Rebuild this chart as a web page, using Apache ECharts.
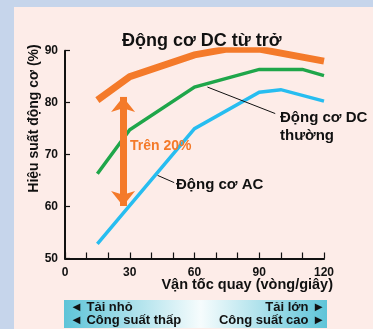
<!DOCTYPE html>
<html><head><meta charset="utf-8">
<script src="https://cdn.jsdelivr.net/npm/echarts@6/dist/echarts.min.js"></script>
<style>html,body{margin:0;padding:0;background:#c6d5eb;}#c{width:373px;height:329px;}</style>
</head><body><div id="c"></div>
<script>
const FONT = '"Liberation Sans", Arial, sans-serif';
const titleText = 'Động cơ DC từ trở';
const xName = 'Vận tốc quay (vòng/giây)';
const yName = 'Hiệu suất động cơ (%)';
const xTickLabels = [0, 30, 60, 90, 120];

const srmSpeed = [15, 30, 60, 75, 90, 120];
const srmEff   = [80.5, 85, 89.2, 90.3, 90.3, 88];
const dcSpeed  = [15, 30, 60, 90, 110, 120];
const dcEff    = [66.3, 74.8, 83, 86.4, 86.4, 85.2];
const acSpeed  = [15, 60, 90, 100, 120];
const acEff    = [52.8, 75, 82, 82.5, 80.3];

const pairs = (xs, ys) => xs.map((x, i) => [x, ys[i]]);

const chart = echarts.init(document.getElementById('c'), null, {renderer: 'canvas'});
chart.setOption({
  animation: false,
  backgroundColor: '#c6d5eb',
  textStyle: {fontFamily: FONT},
  title: {
    text: titleText, left: 117, top: 27,
    textStyle: {fontFamily: FONT, fontSize: 18, fontWeight: 'bold', color: '#111'}
  },
  grid: {left: 65, right: 49, top: 50.7, bottom: 70.5, containLabel: false, outerBoundsMode: 'none'},
  xAxis: {
    type: 'value', min: 0, max: 120, interval: 10,
    axisLine: {lineStyle: {color: '#111', width: 2}},
    axisTick: {inside: true, length: 6, lineStyle: {color: '#111', width: 1.2}},
    axisLabel: {fontFamily: FONT, fontSize: 12, fontWeight: 'bold', color: '#111', margin: 8,
      formatter: v => xTickLabels.indexOf(v) >= 0 ? String(v) : ''},
    splitLine: {show: false}
  },
  yAxis: {
    type: 'value', min: 50, max: 90, interval: 10,
    axisLine: {show: true, lineStyle: {color: '#111', width: 2}},
    axisTick: {show: true, inside: true, length: 5, lineStyle: {color: '#111', width: 1.2}},
    axisLabel: {fontFamily: FONT, fontSize: 12, fontWeight: 'bold', color: '#111', margin: 7},
    splitLine: {show: false}
  },
  series: [
    {
      name: 'Động cơ DC từ trở', type: 'line', data: pairs(srmSpeed, srmEff),
      showSymbol: false, symbol: 'none', z: 3,
      lineStyle: {color: '#f47a2a', width: 7, cap: 'butt', join: 'miter'},
      markLine: {
        silent: true, symbol: ['arrow', 'arrow'], symbolSize: [18, 15],
        label: {show: false},
        lineStyle: {color: '#f47a2a', width: 7, type: 'solid'},
        data: [[{coord: [26.9, 81.1]}, {coord: [26.9, 60.1]}]]
      }
    },
    {
      name: 'Động cơ DC thường', type: 'line', data: pairs(dcSpeed, dcEff),
      showSymbol: false, symbol: 'none', z: 2,
      lineStyle: {color: '#1fa64a', width: 3.5, join: 'miter'},
      markLine: {
        silent: true, symbol: 'none', label: {show: false},
        lineStyle: {color: '#111', width: 1, type: 'solid'},
        data: [
          [{coord: [66, 83]}, {coord: [97.4, 77.9]}],
          [{coord: [42.9, 66]}, {coord: [50.6, 64.6]}]
        ]
      }
    },
    {
      name: 'Động cơ AC', type: 'line', data: pairs(acSpeed, acEff),
      showSymbol: false, symbol: 'none', z: 2,
      lineStyle: {color: '#27bdf0', width: 3.5, join: 'miter'}
    }
  ],
  graphic: [
    {type: 'rect', z: -10, shape: {x: 14, y: 7, width: 359, height: 322}, style: {fill: '#fdece8'}},
    {type: 'text', z: 10, x: 333, y: 285, style: {text: xName, font: 'bold 14.5px ' + FONT, fill: '#111', textAlign: 'right', textVerticalAlign: 'middle'}},
    {type: 'text', z: 10, x: 34, y: 118.5, rotation: Math.PI / 2, style: {text: yName, font: 'bold 14px ' + FONT, fill: '#111', textAlign: 'center', textVerticalAlign: 'middle'}},
    {type: 'text', z: 10, x: 130, y: 146, style: {text: 'Trên 20%', font: 'bold 14px ' + FONT, fill: '#f47a2a', textVerticalAlign: 'middle'}},
    {type: 'text', z: 10, x: 176, y: 185, style: {text: 'Động cơ AC', font: 'bold 15px ' + FONT, fill: '#111', textVerticalAlign: 'middle'}},
    {type: 'text', z: 10, x: 280, y: 118, style: {text: 'Động cơ DC', font: 'bold 15px ' + FONT, fill: '#111', textVerticalAlign: 'middle'}},
    {type: 'text', z: 10, x: 280, y: 136, style: {text: 'thường', font: 'bold 15px ' + FONT, fill: '#111', textVerticalAlign: 'middle'}},
    {type: 'rect', z: 5, shape: {x: 64, y: 300, width: 263, height: 28},
      style: {fill: new echarts.graphic.LinearGradient(0, 0, 1, 0, [
        {offset: 0, color: '#5ec4d8'}, {offset: 0.52, color: '#f6fcfd'}, {offset: 1, color: '#5ec4d8'}])}},
    {type: 'text', z: 10, x: 70, y: 307, style: {text: '◄ Tải nhỏ', font: 'bold 13px ' + FONT, fill: '#111', textVerticalAlign: 'middle'}},
    {type: 'text', z: 10, x: 70, y: 320, style: {text: '◄ Công suất thấp', font: 'bold 13px ' + FONT, fill: '#111', textVerticalAlign: 'middle'}},
    {type: 'text', z: 10, x: 325, y: 307, style: {text: 'Tải lớn ►', font: 'bold 13px ' + FONT, fill: '#111', textAlign: 'right', textVerticalAlign: 'middle'}},
    {type: 'text', z: 10, x: 325, y: 320, style: {text: 'Công suất cao ►', font: 'bold 13px ' + FONT, fill: '#111', textAlign: 'right', textVerticalAlign: 'middle'}}
  ]
});
</script></body></html>
